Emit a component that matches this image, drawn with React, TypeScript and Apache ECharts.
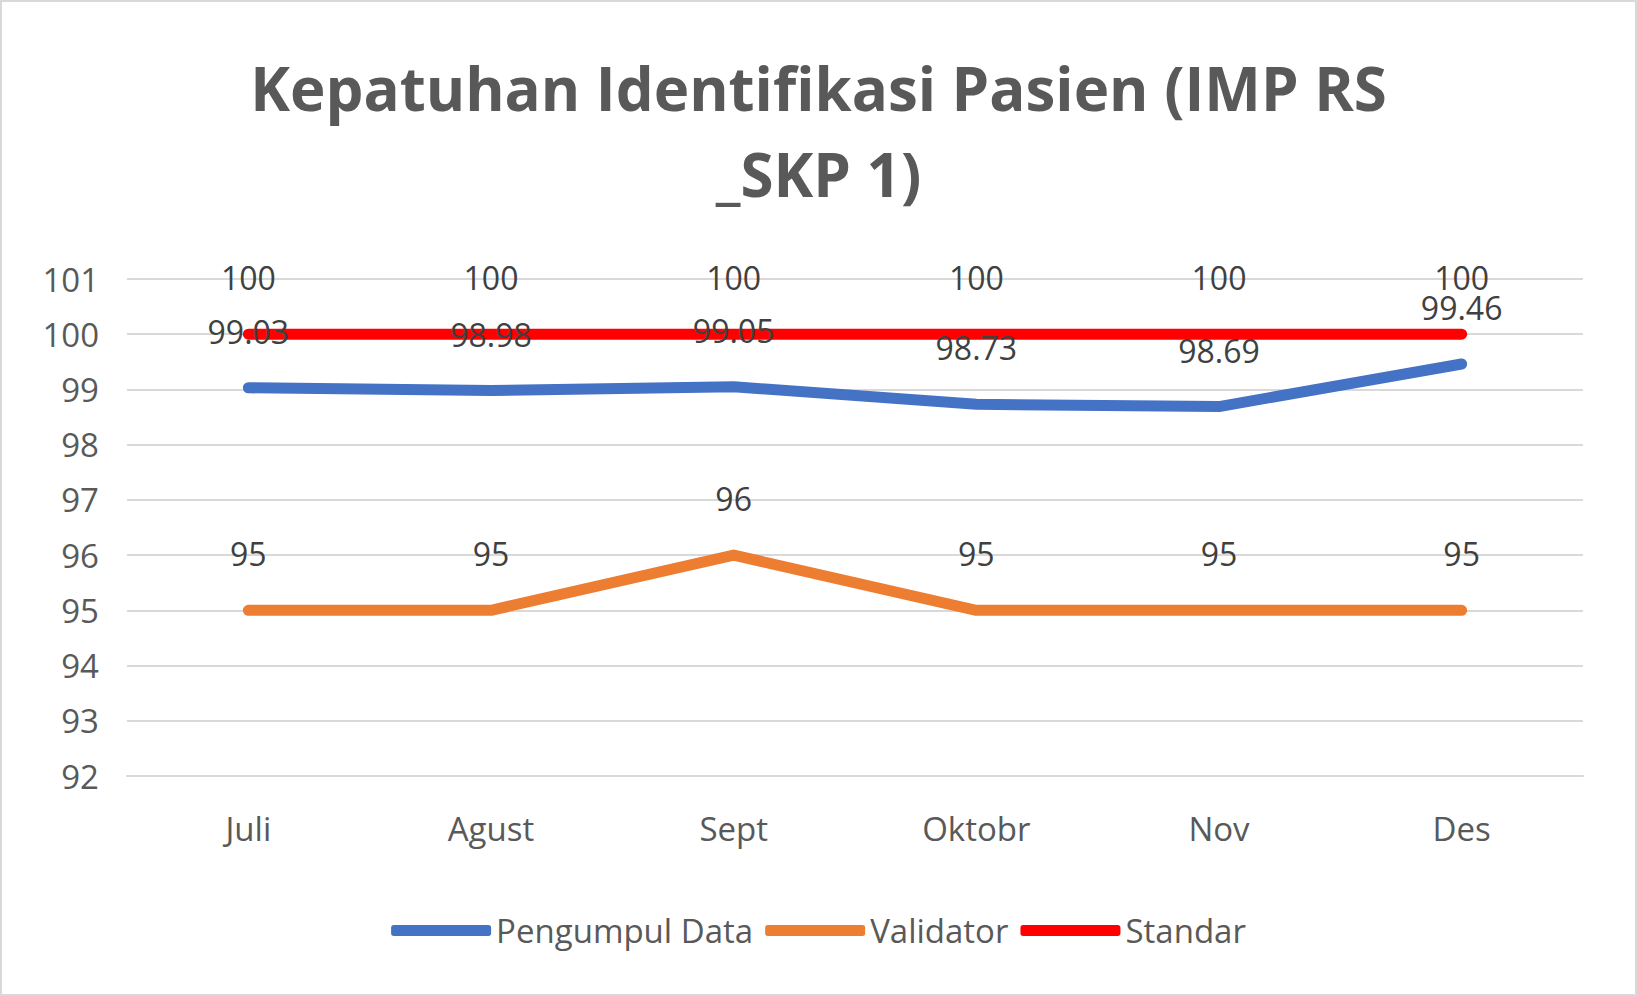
import React, { useEffect, useRef } from "react";
import * as echarts from "echarts";

const categories = ["Juli", "Agust", "Sept", "Oktobr", "Nov", "Des"];
const pengumpul = [99.03, 98.98, 99.05, 98.73, 98.69, 99.46];
const validator = [95, 95, 96, 95, 95, 95];
const standar = [100, 100, 100, 100, 100, 100];

export default function App() {
  const ref = useRef<HTMLDivElement>(null);
  useEffect(() => {
    const chart = echarts.init(ref.current!, null, { renderer: "svg" });
    const font = "'Open Sans', 'Noto Sans', sans-serif";
    const mk = (name: string, data: number[], color: string, z: number, dist: number) => ({
      name, type: "line", data, z, symbol: "circle", symbolSize: 1, showSymbol: true,
      lineStyle: { color, width: 11, cap: "round", join: "round" },
      itemStyle: { color },
      label: { show: true, position: "top", color: "#404040", fontSize: 32, fontFamily: font, distance: dist },
      labelLayout: { hideOverlap: false },
    });
    chart.setOption({
      animation: false,
      backgroundColor: "#fff",
      title: {
        text: "Kepatuhan Identifikasi Pasien (IMP RS\n_SKP 1)",
        left: "center", top: 38,
        textStyle: { fontSize: 60, fontWeight: "bold", color: "#595959", fontFamily: font, lineHeight: 86 },
      },
      grid: { left: 125, right: 52, top: 277, bottom: 218 },
      xAxis: {
        type: "category", data: categories, boundaryGap: true,
        axisLine: { lineStyle: { color: "#d9d9d9", width: 2 } }, axisTick: { show: false },
        axisLabel: { color: "#595959", fontSize: 33, fontFamily: font, margin: 36 },
      },
      yAxis: {
        type: "value", min: 92, max: 101, interval: 1,
        splitLine: { lineStyle: { color: "#d9d9d9", width: 2 } },
        axisLabel: { color: "#595959", fontSize: 33, fontFamily: font, margin: 28 },
      },
      legend: {
        bottom: 42, left: "center", itemWidth: 100, itemHeight: 11, itemGap: 12,
        textStyle: { color: "#595959", fontSize: 33, fontFamily: font },
        data: [
          { name: "Pengumpul Data", icon: "roundRect" },
          { name: "Validator", icon: "roundRect" },
          { name: "Standar", icon: "roundRect" },
        ],
      },
      series: [
        mk("Pengumpul Data", pengumpul, "#4472c4", 3, 40),
        mk("Validator", validator, "#ed7d31", 2, 40),
        mk("Standar", standar, "#ff0000", 1, 40),
      ],
    });
    return () => chart.dispose();
  }, []);
  return (
    <div style={{ position: "fixed", left: 0, top: 0, width: 1637, height: 996, boxSizing: "border-box", border: "2px solid #d9d9d9", background: "#fff" }}>
      <div ref={ref} style={{ width: "100%", height: "100%" }} />
    </div>
  );
}
